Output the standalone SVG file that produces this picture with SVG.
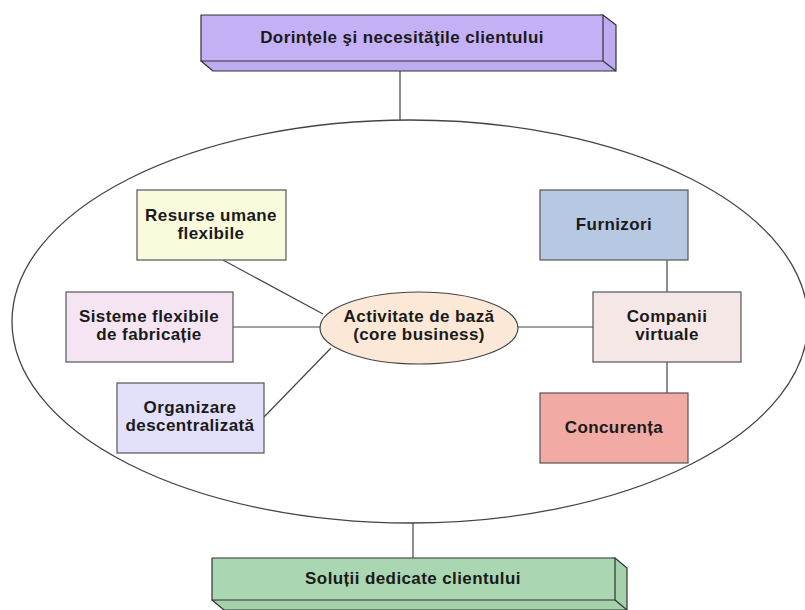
<svg xmlns="http://www.w3.org/2000/svg" width="805" height="610" viewBox="0 0 805 610">
<style>
.t{font-family:"Liberation Sans",Arial,sans-serif;font-weight:bold;font-size:17px;letter-spacing:0.4px;fill:#1a1a1a;text-anchor:middle}
.box{stroke:#555;stroke-width:1.2}
.e3d{stroke:#333;stroke-width:1.2;stroke-linejoin:round}
.ln{stroke:#444;stroke-width:1.2;fill:none}
</style>
<rect width="805" height="610" fill="#fff"/>
<g id="connectors">
<line class="ln" x1="400" y1="71" x2="400" y2="120"/>
<line class="ln" x1="413" y1="523" x2="413" y2="558"/>
<line class="ln" x1="223" y1="260" x2="323" y2="314"/>
<line class="ln" x1="233" y1="327" x2="320" y2="327"/>
<line class="ln" x1="264" y1="417" x2="331" y2="348"/>
<line class="ln" x1="518" y1="327" x2="593" y2="327"/>
<line class="ln" x1="667" y1="260" x2="667" y2="292"/>
<line class="ln" x1="667" y1="362" x2="667" y2="393"/>
</g>
<g id="ellipse-mare">
<ellipse cx="410" cy="321.5" rx="398" ry="201.5" fill="none" stroke="#444" stroke-width="1.3"/>
</g>
<g id="dorinte">
<polygon class="e3d" points="603,15 616,25 616,71 213,71 201,61" fill="#bfacf0"/>
<line class="e3d" x1="603" y1="61" x2="616" y2="71"/>
<rect class="e3d" x="201" y="15" width="402" height="46" fill="#c4b1f5"/>
<text class="t" x="402" y="43">Dorințele şi necesităţile clientului</text>
</g>
<g id="solutii">
<polygon class="e3d" points="615,558 627,568 627,610 224,610 212,600" fill="#a4d0ab"/>
<line class="e3d" x1="615" y1="600" x2="627" y2="610"/>
<rect class="e3d" x="212" y="558" width="403" height="42" fill="#aad6b1"/>
<text class="t" x="413" y="584">Soluții dedicate clientului</text>
</g>
<g id="activitate">
<ellipse cx="419" cy="328" rx="99" ry="36" fill="#fbe8d6" stroke="#444" stroke-width="1.2"/>
<text class="t" x="419" y="322">Activitate de bază</text>
<text class="t" x="419" y="340">(core business)</text>
</g>
<g id="resurse">
<rect class="box" x="137" y="190" width="149" height="70" fill="#fafadc"/>
<text class="t" x="211" y="221">Resurse umane</text>
<text class="t" x="211" y="238.5">flexibile</text>
</g>
<g id="sisteme">
<rect class="box" x="66" y="292" width="167" height="70" fill="#f5e4f2"/>
<text class="t" x="149" y="322">Sisteme flexibile</text>
<text class="t" x="149" y="339.5">de fabricație</text>
</g>
<g id="organizare">
<rect class="box" x="117" y="383" width="147" height="70" fill="#e2e0fa"/>
<text class="t" x="190" y="413">Organizare</text>
<text class="t" x="190" y="430.5">descentralizată</text>
</g>
<g id="furnizori">
<rect class="box" x="540" y="190" width="148" height="70" fill="#b6c8e2"/>
<text class="t" x="614" y="230">Furnizori</text>
</g>
<g id="companii">
<rect class="box" x="593" y="292" width="148" height="70" fill="#f4e7e5"/>
<text class="t" x="667" y="322">Companii</text>
<text class="t" x="667" y="339.5">virtuale</text>
</g>
<g id="concurenta">
<rect class="box" x="540" y="393" width="148" height="70" fill="#f2aaa4"/>
<text class="t" x="614" y="433">Concurența</text>
</g>
</svg>
